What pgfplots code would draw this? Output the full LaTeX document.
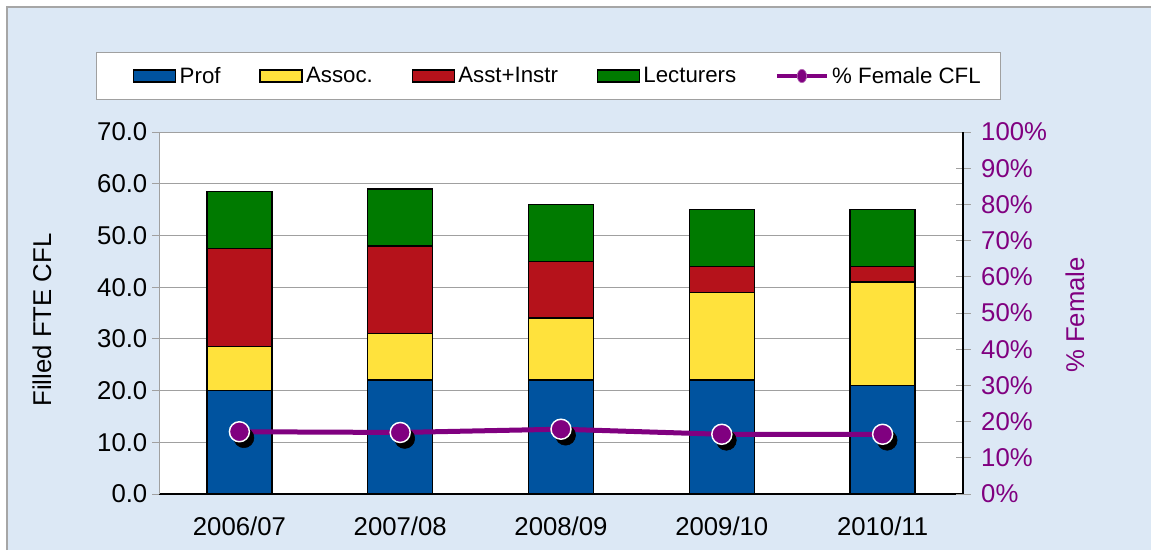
\documentclass[border=0pt]{standalone}
\usepackage{fontspec}
\setmainfont{Liberation Sans}
\usepackage{pgfplots}
\pgfplotsset{compat=1.18}
\definecolor{bgblue}{HTML}{DCE8F5}
\definecolor{profblue}{HTML}{00539F}
\definecolor{assocyellow}{HTML}{FFE23C}
\definecolor{asstred}{HTML}{B5121B}
\definecolor{lectgreen}{HTML}{007A00}
\definecolor{fpurple}{HTML}{800080}
\definecolor{gridgray}{HTML}{A0A0A0}
\begin{document}
\begin{tikzpicture}
\fill[white] (0,0) rectangle (863.25pt,412.5pt);
\fill[bgblue] (5.25pt,0) rectangle (863.25pt,407.25pt);
\draw[gray!70, line width=0.8pt] (5.25pt,0) -- (5.25pt,407.25pt) -- (863.25pt,407.25pt);
\begin{axis}[
  at={(119.25pt,42pt)}, anchor=south west,
  scale only axis, width=603pt, height=271.5pt,
  xmin=-0.5, xmax=4.5, ymin=0, ymax=70,
  ybar stacked, bar width=48.75pt,
  axis background/.style={fill=white},
  axis x line*=bottom, axis y line*=left,
  x axis line style={black, line width=1pt, -},
  y axis line style={gridgray, line width=0.6pt, -},
  xtick={0,1,2,3,4},
  xticklabels={2006/07,2007/08,2008/09,2009/10,2010/11},
  x tick style={draw=none},
  ytick={0,10,...,70},
  ymajorgrids, major grid style={gridgray, line width=0.6pt},
  y tick style={gridgray, line width=0.6pt},
  tick align=outside, major tick length=5.25pt,
  ticklabel style={font=\fontsize{19.3}{23}\selectfont},
  yticklabel style={/pgf/number format/.cd, fixed, fixed zerofill, precision=1, assume math mode=true},
  xticklabel style={yshift=-8pt},
  ylabel={Filled FTE CFL},
  ylabel style={font=\fontsize{19.3}{23}\selectfont, at={(axis description cs:-0.1455,0.4807)}, anchor=center, rotate=0},
  every axis plot/.append style={draw=black, line width=1.1pt},
]
\addplot[fill=profblue] coordinates {(0,20) (1,22) (2,22) (3,22) (4,21)};
\addplot[fill=assocyellow] coordinates {(0,8.5) (1,9) (2,12) (3,17) (4,20)};
\addplot[fill=asstred] coordinates {(0,19) (1,17) (2,11) (3,5) (4,3)};
\addplot[fill=lectgreen] coordinates {(0,11) (1,11) (2,11) (3,11) (4,11)};
\end{axis}
\begin{axis}[
  at={(119.25pt,42pt)}, anchor=south west,
  scale only axis, width=603pt, height=271.5pt,
  xmin=-0.5, xmax=4.5, ymin=0, ymax=1,
  axis x line=none, axis y line*=right,
  y axis line style={black, line width=1pt, -},
  ytick={0,0.1,...,1.01},
  yticklabels={0\%,10\%,20\%,30\%,40\%,50\%,60\%,70\%,80\%,90\%,100\%},
  y tick style={gridgray, line width=0.6pt},
  tick align=center, major tick length=11.25pt,
  yticklabel style={font=\fontsize{19.3}{23}\selectfont, text=fpurple, anchor=west, xshift=4.5pt},
  ylabel={\% Female},
  ylabel style={font=\fontsize{19.3}{23}\selectfont, text=fpurple, at={(axis description cs:1.1393,0.4945)}, anchor=center},
  legend columns=5,
  legend style={at={(axis description cs:0.4845,1.1547)}, anchor=center,
    draw=gridgray, line width=0.6pt, fill=white,
    font=\fontsize{16.7}{20}\selectfont,
    inner xsep=13pt, inner ysep=9pt,
    /tikz/every odd column/.append style={column sep=0.5pt},
    /tikz/every even column/.append style={column sep=27pt}},
]
\addlegendimage{legend image code/.code={\path[draw=none, fill=none] (-15pt,0pt) -- (0pt,0pt); \draw[draw=black, line width=1.1pt, fill=profblue] (0pt,-4.5pt) rectangle (31.5pt,4.5pt);}}
\addlegendentry{Prof}
\addlegendimage{legend image code/.code={\draw[draw=black, line width=1.1pt, fill=assocyellow] (0pt,-4.5pt) rectangle (31.5pt,4.5pt);}}
\addlegendentry{Assoc.}
\addlegendimage{legend image code/.code={\draw[draw=black, line width=1.1pt, fill=asstred] (0pt,-4.5pt) rectangle (31.5pt,4.5pt);}}
\addlegendentry{Asst+Instr}
\addlegendimage{legend image code/.code={\draw[draw=black, line width=1.1pt, fill=lectgreen] (0pt,-4.5pt) rectangle (31.5pt,4.5pt);}}
\addlegendentry{Lecturers}
\addlegendimage{legend image code/.code={\draw[mark repeat=2, mark phase=2, fpurple, line width=3pt, mark=*, mark options={xscale=0.7, line width=0.5pt, draw=fpurple!60!white, fill=fpurple}, mark size=5pt] plot coordinates {(0pt,0pt) (18.75pt,0pt) (37.5pt,0pt)};}}
\addlegendentry{\% Female CFL}
\addplot[forget plot, only marks, mark=*, mark size=7.5pt, mark options={fill=black, draw=black, xshift=3.4pt, yshift=-4.5pt}] coordinates {(0,0.172) (1,0.170) (2,0.179) (3,0.165) (4,0.165)};
\addplot[forget plot, fpurple, line width=3.75pt, mark=*, mark size=7.5pt, mark options={fill=fpurple, draw=white, line width=1.1pt}] coordinates {(0,0.172) (1,0.170) (2,0.179) (3,0.165) (4,0.165)};
\end{axis}
\pgfresetboundingbox
\useasboundingbox (0,0) rectangle (863.25pt,412.5pt);
\end{tikzpicture}
\end{document}
